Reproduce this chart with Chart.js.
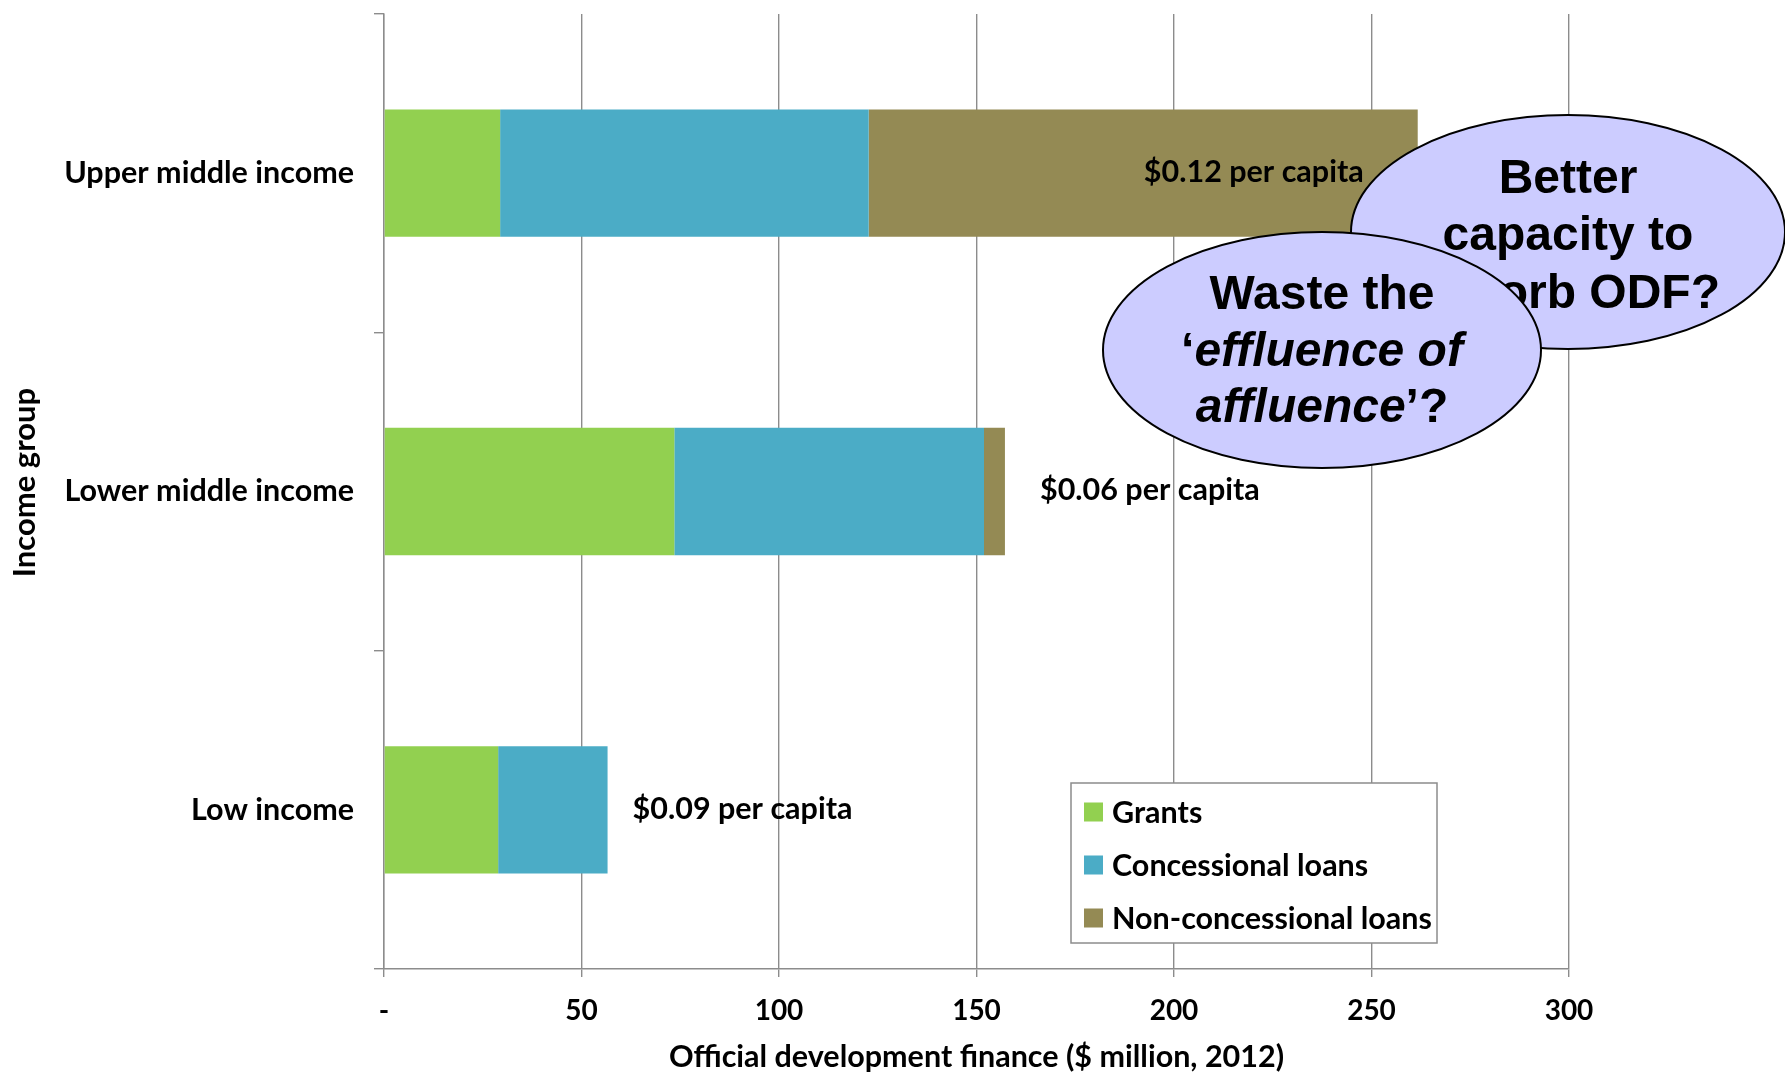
<!DOCTYPE html>
<html>
<head>
<meta charset="utf-8">
<script src="https://cdn.jsdelivr.net/npm/chart.js@4.4.1/dist/chart.umd.min.js"></script>
<style>
  html, body { margin: 0; padding: 0; background: #fff; }
  canvas { display: block; }
</style>
</head>
<body>
<canvas id="odfChart" width="1785" height="1073"></canvas>
<script>
// Official development finance by income group, $ million (2012)
const categories = ['Upper middle income', 'Lower middle income', 'Low income'];
const grants = [29.4, 73.5, 28.9];
const concessionalLoans = [93.3, 78.4, 27.7];
const nonConcessionalLoans = [139.0, 5.3, 0];
const perCapitaLabels = ['$0.12 per capita', '$0.06 per capita', '$0.09 per capita'];
const xTicks = [0, 50, 100, 150, 200, 250, 300];

const seriesNames = ['Grants', 'Concessional loans', 'Non-concessional loans'];
const seriesColors = ['#92D050', '#4BACC6', '#948A54'];

const labelFont = 'bold 30.5px Lato';
const gridColor = '#8c8c8c';

// per-capita labels sit next to the end of each stacked bar
const perCapitaPlacement = [
    { dx: -54, align: 'right' },
    { dx: 35, align: 'left' },
    { dx: 25, align: 'left' },
];

const perCapitaPlugin = {
    id: 'perCapita',
    afterDatasetsDraw(chart) {
        const { ctx, scales: { x, y } } = chart;
        ctx.save();
        ctx.font = labelFont;
        ctx.fillStyle = '#000';
        ctx.textBaseline = 'middle';
        categories.forEach((c, i) => {
            const total = grants[i] + concessionalLoans[i] + nonConcessionalLoans[i];
            const p = perCapitaPlacement[i];
            ctx.textAlign = p.align;
            ctx.fillText(perCapitaLabels[i], x.getPixelForValue(total) + p.dx, y.getPixelForValue(i) - 1);
        });
        ctx.restore();
    }
};

// boxed legend inside the plot, bottom right
const boxLegendPlugin = {
    id: 'boxLegend',
    afterDatasetsDraw(chart) {
        const { ctx } = chart;
        const box = { x: 1071, y: 783, w: 366, h: 160 };
        ctx.save();
        ctx.fillStyle = '#fff';
        ctx.fillRect(box.x, box.y, box.w, box.h);
        ctx.strokeStyle = gridColor;
        ctx.lineWidth = 1.5;
        ctx.strokeRect(box.x, box.y, box.w, box.h);
        ctx.font = labelFont;
        ctx.textBaseline = 'middle';
        ctx.textAlign = 'left';
        chart.data.datasets.forEach((ds, i) => {
            const cy = box.y + 29 + i * 53;
            ctx.fillStyle = ds.backgroundColor;
            ctx.fillRect(box.x + 13, cy - 9.5, 19, 19);
            ctx.fillStyle = '#000';
            ctx.fillText(ds.label, box.x + 41, cy + 1);
        });
        ctx.restore();
    }
};

// y-axis title, drawn by hand so it can sit a little above the middle
const yTitlePlugin = {
    id: 'yTitle',
    afterDraw(chart) {
        const { ctx, chartArea } = chart;
        ctx.save();
        ctx.translate(25, (chartArea.top + chartArea.bottom) / 2 - 9);
        ctx.rotate(-Math.PI / 2);
        ctx.font = 'bold 31px Lato';
        ctx.fillStyle = '#000';
        ctx.textAlign = 'center';
        ctx.textBaseline = 'middle';
        ctx.fillText('Income group', 0, 0);
        ctx.restore();
    }
};

// two overlapping callout bubbles
function drawBubble(ctx, cx, cy, rx, ry, lines) {
    ctx.beginPath();
    ctx.ellipse(cx, cy, rx, ry, 0, 0, Math.PI * 2);
    ctx.fillStyle = '#CCCCFF';
    ctx.fill();
    ctx.lineWidth = 2;
    ctx.strokeStyle = '#000';
    ctx.stroke();
    ctx.fillStyle = '#000';
    ctx.textBaseline = 'middle';
    ctx.textAlign = 'left';
    lines.forEach(line => {
        const parts = line.parts.map(([text, italic]) => {
            ctx.font = (italic ? 'italic ' : '') + 'bold 48px "Liberation Sans"';
            return { text, font: ctx.font, w: ctx.measureText(text).width };
        });
        const total = parts.reduce((s, p) => s + p.w, 0);
        let x = cx - total / 2;
        parts.forEach(p => {
            ctx.font = p.font;
            ctx.fillText(p.text, x, line.y);
            x += p.w;
        });
    });
}

const bubblesPlugin = {
    id: 'bubbles',
    afterDraw(chart) {
        const { ctx } = chart;
        ctx.save();
        drawBubble(ctx, 1568, 232, 217, 117, [
            { y: 180, parts: [['Better', false]] },
            { y: 237, parts: [['capacity to', false]] },
            { y: 295, parts: [['absorb ODF?', false]] },
        ]);
        drawBubble(ctx, 1322, 350, 219, 118, [
            { y: 296, parts: [['Waste the', false]] },
            { y: 353, parts: [['\u2018', false], ['effluence of', true]] },
            { y: 409, parts: [['affluence', true], ['\u2019?', false]] },
        ]);
        ctx.restore();
    }
};

const datasets = [grants, concessionalLoans, nonConcessionalLoans].map((values, i) => ({
    label: seriesNames[i],
    data: values,
    backgroundColor: seriesColors[i],
    borderWidth: 0,
    categoryPercentage: 0.4,
    barPercentage: 1,
}));

const boldFont = size => ({ family: 'Lato', weight: 'bold', size });

new Chart(document.getElementById('odfChart'), {
    type: 'bar',
    data: { labels: categories, datasets },
    options: {
        indexAxis: 'y',
        responsive: false,
        animation: false,
        layout: { padding: { top: 14, right: 216, left: 0, bottom: 0 } },
        scales: {
            x: {
                stacked: true,
                min: 0,
                max: 300,
                afterBuildTicks: scale => { scale.ticks = xTicks.map(v => ({ value: v })); },
                afterFit: scale => { scale.height = 104; },
                grid: { color: gridColor, lineWidth: 1.4, tickLength: 8 },
                border: { color: gridColor, width: 1.4 },
                ticks: {
                    color: '#000',
                    font: boldFont(28),
                    padding: 17,
                    callback: v => (v === 0 ? '-' : v),
                },
                title: {
                    display: true,
                    text: 'Official development finance ($ million, 2012)',
                    color: '#000',
                    font: boldFont(30.5),
                    padding: { top: 0, bottom: -2 },
                },
            },
            y: {
                stacked: true,
                afterFit: scale => {
                    scale.width = 384;
                    scale.paddingTop = 0;
                    scale.paddingBottom = 0;
                },
                grid: { offset: true, drawOnChartArea: false, color: gridColor, lineWidth: 1.4, tickLength: 10 },
                border: { color: gridColor, width: 1.4 },
                ticks: {
                    color: '#000',
                    font: boldFont(30.5),
                    padding: 20,
                },
            },
        },
        plugins: {
            legend: { display: false },
            tooltip: { enabled: false },
        },
    },
    plugins: [perCapitaPlugin, boxLegendPlugin, yTitlePlugin, bubblesPlugin],
});
</script>
</body>
</html>
